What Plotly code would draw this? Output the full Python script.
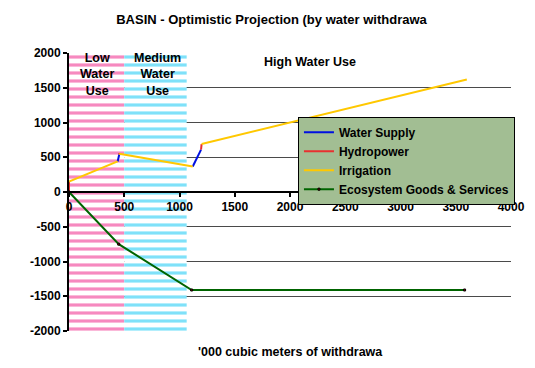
import plotly.graph_objects as go

# ---- data ----
low_range = [0, 500]
med_range = [500, 1065]
y_span = [-2000, 2000]

irr_x = [0, 440, None, 455, 1120, None, 1200, 3600]
irr_y = [150, 440, None, 550, 367, None, 690, 1620]

ws_x = [440, 455, None, 1120, 1195]
ws_y = [440, 540, None, 367, 610]

hp_x = [0, 0, None, 455, 455, None, 1195, 1200]
hp_y = [0, 150, None, 540, 560, None, 610, 690]

eco_x = [0, 450, 1110, 3580]
eco_y = [0, -750, -1410, -1410]

x_ticks = [0, 500, 1000, 1500, 2000, 2500, 3000, 3500, 4000]
y_ticks = [-2000, -1500, -1000, -500, 0, 500, 1000, 1500, 2000]

FONT = "Liberation Sans"

fig = go.Figure()

def region(xr, color):
    fig.add_trace(go.Scatter(
        x=[xr[0], xr[1], xr[1], xr[0], xr[0]],
        y=[y_span[0], y_span[0], y_span[1], y_span[1], y_span[0]],
        fill="toself", mode="none", showlegend=False, hoverinfo="skip",
        fillcolor="white",
        fillpattern=dict(shape="-", fgcolor=color, bgcolor="white",
                         size=8, solidity=0.4),
    ))

region(low_range, "#EE1480")
region(med_range, "#00C4F4")

fig.add_trace(go.Scatter(x=ws_x, y=ws_y, mode="lines", name="<b>Water Supply</b>",
                         line=dict(color="#0010E0", width=2), connectgaps=False))
fig.add_trace(go.Scatter(x=hp_x, y=hp_y, mode="lines", name="<b>Hydropower</b>",
                         line=dict(color="#E83030", width=2), connectgaps=False))
fig.add_trace(go.Scatter(x=irr_x, y=irr_y, mode="lines", name="<b>Irrigation</b>",
                         line=dict(color="#FFC800", width=2), connectgaps=False))
fig.add_trace(go.Scatter(x=eco_x, y=eco_y, mode="lines+markers",
                         name="<b>Ecosystem Goods & Services</b>",
                         line=dict(color="#006400", width=2),
                         marker=dict(symbol="square", size=2, color="#A00000",
                                     line=dict(color="black", width=1))))

fig.update_layout(
    width=527, height=360,
    margin=dict(l=61, r=24, t=45, b=37),
    paper_bgcolor="white", plot_bgcolor="white",
    font=dict(family=FONT, size=12, color="black"),
    title=dict(text="<b>BASIN - Optimistic Projection (by water withdrawa</b>",
               x=0.5, xanchor="center", y=0.967, yanchor="middle",
               font=dict(size=13, family=FONT)),
    showlegend=True,
    legend=dict(x=0.518, y=0.771, xanchor="left", yanchor="top",
                bgcolor="#A2BE93", bordercolor="black", borderwidth=1,
                font=dict(size=12, family=FONT), tracegroupgap=0,
                itemwidth=30),
)

fig.update_xaxes(range=[0, 4000], tickvals=x_ticks,
                 ticktext=[f"<b>{v}</b>" for v in x_ticks],
                 anchor="free", position=0.5, automargin=False,
                 showline=True, linecolor="black", linewidth=2,
                 ticks="outside", ticklen=4, tickcolor="black", tickwidth=2,
                 showgrid=False, zeroline=False,
                 tickfont=dict(size=12, family=FONT))
fig.update_yaxes(range=[-2000, 2000], tickvals=y_ticks,
                 ticktext=[f"<b>{v}</b>" for v in y_ticks], automargin=False,
                 showline=True, linecolor="black", linewidth=2,
                 ticks="outside", ticklen=4, tickcolor="black", tickwidth=2,
                 showgrid=True, gridcolor="#4a4a4a", gridwidth=1,
                 zeroline=True, zerolinecolor="black", zerolinewidth=2,
                 tickfont=dict(size=12, family=FONT))

fig.add_annotation(x=250, y=1690, text="<b>Low<br>Water<br>Use</b>",
                   showarrow=False, font=dict(size=12.5, family=FONT))
fig.add_annotation(x=805, y=1690, text="<b>Medium<br>Water<br>Use</b>",
                   showarrow=False, font=dict(size=12.5, family=FONT))
fig.add_annotation(x=2180, y=1875, text="<b>High Water Use</b>",
                   showarrow=False, font=dict(size=12.5, family=FONT))
fig.add_annotation(x=0.5, y=-0.075, xref="paper", yref="paper",
                   xanchor="center", yanchor="middle",
                   text="<b>'000 cubic meters of withdrawa</b>",
                   showarrow=False, font=dict(size=12.5, family=FONT))

fig.write_html("out.html")
